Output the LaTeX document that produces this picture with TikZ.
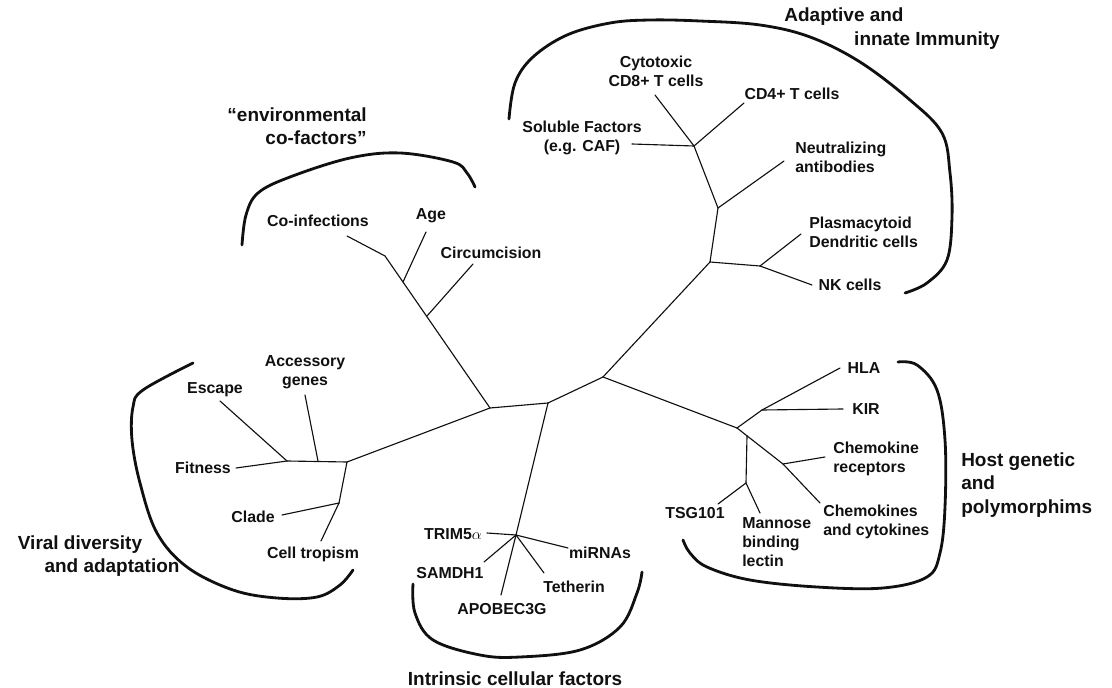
\documentclass[tikz,border=0pt]{standalone}
\usepackage{fontspec}
\setmainfont{Liberation Sans}
\usepackage{xcolor,tikz}
\usetikzlibrary{positioning,calc}
\definecolor{hivInk}{HTML}{101010}

\begin{document}
\begin{tikzpicture}[x=0.025cm, y=-0.025cm,
  leaf/.style={inner sep=0pt, font=\fontsize{11.3}{13.5}\selectfont\bfseries, color=hivInk},
  grouplabel/.style={inner sep=0pt, font=\fontsize{13.5}{16.5}\selectfont\bfseries, color=hivInk},
  branch/.style={draw=hivInk, line width=0.8pt, line cap=round},
  hull/.style={draw=hivInk, line width=2pt, line cap=round, smooth, tension=0.6}]

% --- FRAME (pixel units, y down) ---
\useasboundingbox (0,0) rectangle (1112,688);

% --- TREE JUNCTIONS ---
\foreach \nm/\x/\y in {hub/490/408, midB/548/403, midC/603/377,
  envTop/385/256, envAge/403/282, envCirc/427/316,
  virA/347/462, virAcc/318/461, virFit/287/461, virLow/339/503,
  intA/516/535,
  hostA/737/428, hostUp/762/410, hostDn/747/436, hostChem/783/464, hostLow/746/483,
  adLow/710/262, adPl/760/266, adMid/718/208, adTop/694/146}
  \coordinate (\nm) at (\x,\y);

% --- LEAF TIPS ---
\foreach \nm/\x/\y in {tCoinf/347/236, tAge/426/232, tCirc/473/264,
  tEscape/220/401, tAcc/305/395, tFit/236/468, tClade/282/515, tTrop/321/541,
  tTrim/487/533, tMirna/568/548, tSamdh/484/562, tApobec/501/595, tTeth/544/573,
  tHla/840/368, tKir/843/409, tChemRec/825/457, tChemok/820/503, tTsg/718/504, tMann/760/513,
  tCd8/655/95, tCd4/744/103, tSol/632/144, tNeut/784/161, tPlasm/801/234, tNk/812/285}
  \coordinate (\nm) at (\x,\y);

% --- BRANCHES ---
\foreach \a/\b in {hub/midB, midB/midC,
  hub/envTop, envTop/tCoinf, envAge/tAge, envCirc/tCirc,
  hub/virA, virA/virFit, virFit/tEscape, virFit/tFit, virAcc/tAcc,
  virA/virLow, virLow/tClade, virLow/tTrop,
  midB/intA, intA/tTrim, intA/tMirna, intA/tSamdh, intA/tApobec, intA/tTeth,
  midC/hostA, hostA/hostUp, hostUp/tHla, hostUp/tKir, hostA/hostChem,
  hostChem/tChemok, hostChem/tChemRec, hostDn/hostLow, hostLow/tTsg, hostLow/tMann,
  midC/adLow, adLow/adPl, adPl/tPlasm, adPl/tNk, adLow/adMid, adMid/tNeut,
  adMid/adTop, adTop/tCd8, adTop/tCd4, adTop/tSol}
  \draw[branch] (\a) -- (\b);

% --- LEAF LABELS ---
\node[leaf] (coinf) at (318,221) {Co-infections};
\node[leaf] (age) at (431,216) {Age};
\node[leaf] (circ) at (491,253) {Circumcision};

\node[leaf] (escape) at (215,390) {Escape};
\node[leaf, align=center] (acc) at (305,372) {Accessory\\genes};
\node[leaf] (fitness) at (203,468) {Fitness};
\node[leaf] (clade) at (253,517) {Clade};
\node[leaf] (tropism) at (313,554) {Cell tropism};

\node[leaf] (trim) at (453,534) {TRIM5$\alpha$};
\node[leaf] (samdh) at (450,573) {SAMDH1};
\node[leaf] (apobec) at (502,609) {APOBEC3G};
\node[leaf] (tetherin) at (574,587) {Tetherin};
\node[leaf] (mirna) at (600,553) {miRNAs};

\node[leaf] (hla) at (864,368) {HLA};
\node[leaf] (kir) at (866,409) {KIR};
\node[leaf, align=left, anchor=west] (chemrec) at (833,459) {Chemokine\\receptors};
\node[leaf, align=left, anchor=west] (chemok) at (823,522) {Chemokines\\and cytokines};
\node[leaf] (tsg) at (695,513) {TSG101};
\node[leaf, align=left, anchor=west] (mannose) at (742,542) {Mannose\\binding\\lectin};

\node[leaf, align=center] (cd8) at (656,71) {Cytotoxic\\CD8+ T cells};
\node[leaf] (cd4) at (792,94) {CD4+ T cells};
\node[leaf, align=center] (soluble) at (582,138) {Soluble Factors\\(e.g. CAF)};
\node[leaf, align=left, anchor=west] (neutral) at (795,157) {Neutralizing\\antibodies};
\node[leaf, align=left, anchor=west] (plasm) at (809,232) {Plasmacytoid\\Dendritic cells};
\node[leaf] (nk) at (850,285) {NK cells};

% --- GROUP HULLS ---
\draw[hull] plot coordinates {(242,245) (246,215) (258,193) (290,177) (350,158)
  (400,153) (453,162) (467,173) (475,187)};
\draw[hull] plot coordinates {(509,119) (515,83) (533,57) (567,35) (610,23) (650,20)
  (700,21) (760,25) (810,37) (860,62) (910,100) (942,133) (950,173) (952,217)
  (947,260) (927,283) (905,293)};
\draw[hull] plot coordinates {(193,363) (143,390) (133,407) (132,440) (140,483)
  (157,533) (187,567) (233,590) (277,598) (317,597) (340,585) (353,570)};
\draw[hull] plot coordinates {(413,584) (415,613) (433,640) (480,655) (520,657)
  (580,650) (620,627) (637,593) (642,572)};
\draw[hull] plot coordinates {(898,362) (917,365) (937,390) (945,440) (945,507)
  (940,553) (927,577) (883,588) (817,587) (750,580) (707,567) (690,553) (683,540)};

% --- GROUP TITLES ---
\node[grouplabel, align=right, anchor=east] (envTitle) at (367,126)
  {“environmental\\co-factors”};
\node[grouplabel] (adaptTitleA) at (844,17) {Adaptive and};
\node[grouplabel] (adaptTitleB) at (927,41) {innate Immunity};
\node[grouplabel] (viralTitleA) at (80,545) {Viral diversity};
\node[grouplabel] (viralTitleB) at (112,568) {and adaptation};
\node[grouplabel] (intrTitle) at (515,679) {Intrinsic cellular factors};
\node[grouplabel, align=left, anchor=west] (hostTitle) at (961,485)
  {Host genetic\\and\\polymorphims};

\end{tikzpicture}
\end{document}
